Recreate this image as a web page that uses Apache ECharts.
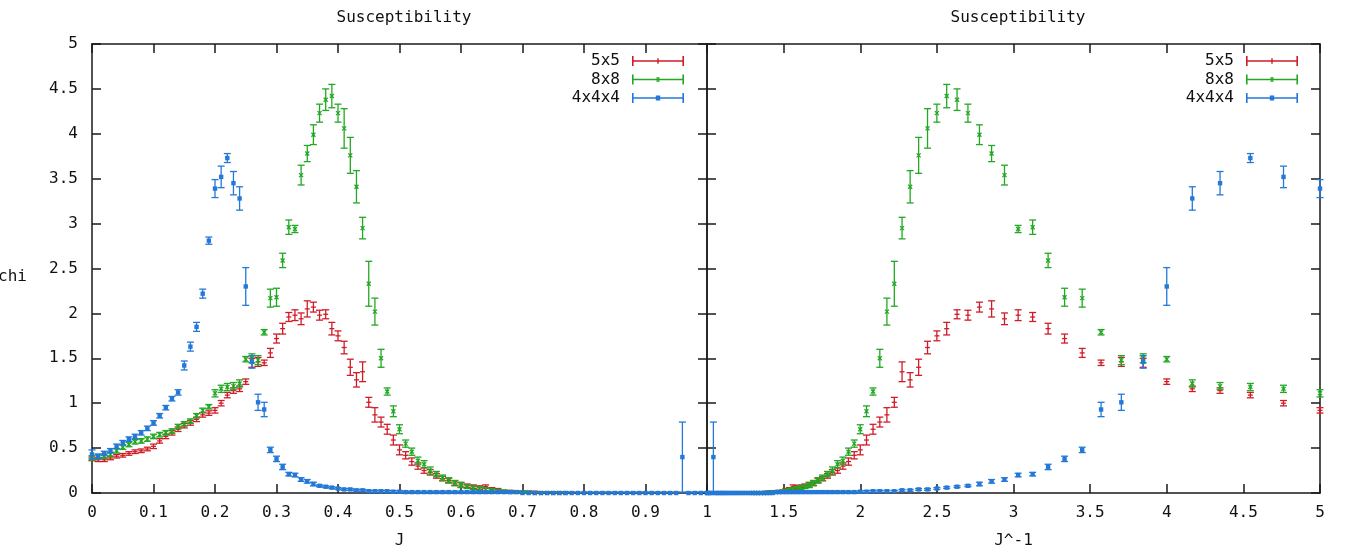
<!DOCTYPE html>
<html><head><meta charset="utf-8">
<script src="https://cdn.jsdelivr.net/npm/echarts@6/dist/echarts.min.js"></script>
<style>html,body{margin:0;padding:0;background:#fff}#c{width:1348px;height:552px}</style>
</head><body><div id="c"></div>
<script>
// coupling J (x of left panel); right panel uses J^-1 of the same points
const J = [0.00,0.01,0.02,0.03,0.04,0.05,0.06,0.07,0.08,0.09,
0.10,0.11,0.12,0.13,0.14,0.15,0.16,0.17,0.18,0.19,
0.20,0.21,0.22,0.23,0.24,0.25,0.26,0.27,0.28,0.29,
0.30,0.31,0.32,0.33,0.34,0.35,0.36,0.37,0.38,0.39,
0.40,0.41,0.42,0.43,0.44,0.45,0.46,0.47,0.48,0.49,
0.50,0.51,0.52,0.53,0.54,0.55,0.56,0.57,0.58,0.59,
0.60,0.61,0.62,0.63,0.64,0.65,0.66,0.67,0.68,0.69,
0.70,0.71,0.72,0.73,0.74,0.75,0.76,0.77,0.78,0.79,
0.80,0.81,0.82,0.83,0.84,0.85,0.86,0.87,0.88,0.89,
0.90,0.91,0.92,0.93,0.94,0.95,0.96,0.97,0.98,0.99,1.00];

// 5x5 (J = 0.00 .. 0.77)
const chi5 = [0.38,0.37,0.37,0.39,0.41,0.42,0.44,0.46,0.47,0.49,
0.52,0.58,0.63,0.67,0.71,0.75,0.78,0.82,0.87,0.89,
0.92,1.00,1.09,1.14,1.16,1.24,1.45,1.46,1.45,1.56,
1.72,1.83,1.96,1.98,1.94,2.05,2.07,1.98,1.99,1.83,
1.75,1.62,1.40,1.26,1.35,1.01,0.87,0.79,0.71,0.59,
0.48,0.42,0.35,0.30,0.25,0.23,0.19,0.16,0.14,0.11,
0.09,0.08,0.07,0.06,0.07,0.04,0.03,0.02,0.02,0.01,
0.01,0.01,0.01,0.00,0.00,0.00,0.00,0.00];
const err5 = [0.02,0.02,0.02,0.02,0.02,0.02,0.02,0.02,0.02,0.02,
0.025,0.025,0.025,0.025,0.025,0.025,0.025,0.025,0.025,0.025,
0.03,0.03,0.03,0.03,0.03,0.03,0.05,0.05,0.03,0.05,
0.05,0.06,0.05,0.06,0.065,0.09,0.055,0.055,0.05,0.07,
0.055,0.07,0.09,0.08,0.11,0.055,0.08,0.055,0.055,0.055,
0.055,0.04,0.04,0.035,0.03,0.03,0.025,0.025,0.025,0.025,
0.025,0.02,0.02,0.02,0.02,0.02,0.02,0.01,0.01,0.01,
0.01,0.01,0.01,0.01,0.01,0.01,0.01,0.01];

// 8x8 (J = 0.00 .. 0.77)
const chi8 = [0.39,0.40,0.41,0.43,0.47,0.51,0.54,0.57,0.58,0.60,
0.63,0.65,0.67,0.69,0.74,0.77,0.80,0.86,0.92,0.96,
1.11,1.16,1.18,1.19,1.22,1.49,1.50,1.48,1.79,2.17,
2.18,2.59,2.96,2.94,3.54,3.78,3.99,4.23,4.38,4.42,
4.23,4.06,3.76,3.41,2.95,2.33,2.02,1.50,1.13,0.91,
0.71,0.55,0.46,0.36,0.32,0.25,0.21,0.17,0.14,0.11,
0.09,0.07,0.06,0.05,0.04,0.03,0.02,0.02,0.01,0.01,
0.01,0.01,0.00,0.00,0.00,0.00,0.00,0.00];
const err8 = [0.025,0.025,0.025,0.025,0.025,0.025,0.025,0.025,0.025,0.025,
0.025,0.025,0.025,0.025,0.025,0.025,0.025,0.025,0.025,0.025,
0.04,0.04,0.04,0.04,0.04,0.03,0.05,0.05,0.03,0.1,
0.1,0.08,0.08,0.04,0.11,0.09,0.11,0.1,0.12,0.13,
0.1,0.22,0.2,0.18,0.12,0.25,0.15,0.1,0.04,0.06,
0.05,0.04,0.04,0.04,0.04,0.04,0.03,0.03,0.03,0.03,
0.03,0.02,0.02,0.02,0.02,0.02,0.02,0.01,0.01,0.01,
0.01,0.01,0.01,0.01,0.01,0.01,0.01,0.01];

// 4x4x4 (J = 0.00 .. 1.00)
const chi444 = [0.43,0.41,0.44,0.47,0.52,0.56,0.60,0.63,0.67,0.72,
0.78,0.86,0.95,1.05,1.12,1.42,1.63,1.85,2.22,2.81,
3.39,3.52,3.73,3.45,3.28,2.30,1.46,1.01,0.93,0.48,
0.38,0.29,0.21,0.20,0.15,0.13,0.10,0.08,0.07,0.06,
0.05,0.04,0.04,0.03,0.03,0.02,0.02,0.02,0.02,0.015,
0.015,0.01,0.01,0.01,0.01,0.01,0.01,0.01,0.01,0.01,
0.01,0.01,0.01,0.01,0.01,0.01,0.01,0.01,0.01,0.01,
0.00,0.00,0.00,0.00,0.00,0.00,0.00,0.00,0.00,0.00,
0.00,0.00,0.00,0.00,0.00,0.00,0.00,0.00,0.00,0.00,
0.00,0.00,0.00,0.00,0.00,0.00,0.40,0.00,0.00,0.00,0.00];
const err444 = [0.05,0.025,0.025,0.025,0.025,0.025,0.025,0.025,0.025,0.025,
0.025,0.025,0.025,0.025,0.03,0.05,0.05,0.05,0.05,0.04,
0.1,0.12,0.05,0.13,0.13,0.21,0.07,0.09,0.08,0.03,
0.03,0.03,0.02,0.02,0.02,0.02,0.02,0.01,0.01,0.01,
0.01,0.01,0.01,0.01,0.01,0.01,0.01,0.01,0.01,0.01,
0.01,0.01,0.01,0.01,0.01,0.01,0.01,0.01,0.01,0.01,
0.01,0.01,0.01,0.01,0.01,0.01,0.01,0.01,0.01,0.01,
0.01,0.01,0.01,0.01,0.01,0.01,0.01,0.01,0.01,0.01,
0.01,0.01,0.01,0.01,0.01,0.01,0.01,0.01,0.01,0.01,
0.01,0.01,0.01,0.01,0.01,0.01,0.39,0.01,0.01,0.01,0.01];

const seriesNames = ['5x5', '8x8', '4x4x4'];
const titleText = 'Susceptibility';
const xNameLeft = 'J', xNameRight = 'J^-1', yName = 'chi';

const COLORS = ['#d01c28', '#22a822', '#2478d8'];
const MONO = '"DejaVu Sans Mono", "Liberation Mono", monospace';
const AXC = '#1a1a1a';

function leftData(chi, err) { return chi.map((v, i) => [J[i], v, err[i]]); }
function rightData(chi, err) {
  const out = [];
  chi.forEach((v, i) => { const j = J[i]; if (j > 0 && 1 / j <= 5.0001) out.push([1 / j, v, err[i]]); });
  return out;
}

function makeRender(kind) {
  return function (params, api) {
    const x = api.value(0), y = api.value(1), e = api.value(2);
    const c = api.visual('color');
    const p = api.coord([x, y]);
    const hi = api.coord([x, y + e]);
    const lo = api.coord([x, Math.max(0, y - e)]);
    const w = 3.5, lw = 1.3;
    const st = { stroke: c, lineWidth: lw };
    const ch = [
      { type: 'line', shape: { x1: p[0], y1: hi[1], x2: p[0], y2: lo[1] }, style: st },
      { type: 'line', shape: { x1: p[0] - w, y1: hi[1], x2: p[0] + w, y2: hi[1] }, style: st }
    ];
    if (y - e >= 0) ch.push({ type: 'line', shape: { x1: p[0] - w, y1: lo[1], x2: p[0] + w, y2: lo[1] }, style: st });
    if (kind === 'plus') {
      ch.push({ type: 'line', shape: { x1: p[0] - 2.5, y1: p[1], x2: p[0] + 2.5, y2: p[1] }, style: st });
    } else if (kind === 'cross') {
      ch.push({ type: 'line', shape: { x1: p[0] - 2, y1: p[1] - 2, x2: p[0] + 2, y2: p[1] + 2 }, style: st });
      ch.push({ type: 'line', shape: { x1: p[0] - 2, y1: p[1] + 2, x2: p[0] + 2, y2: p[1] - 2 }, style: st });
    } else {
      ch.push({ type: 'rect', shape: { x: p[0] - 2.2, y: p[1] - 2.2, width: 4.4, height: 4.4 }, style: { fill: c } });
    }
    return { type: 'group', children: ch };
  };
}

const kinds = ['plus', 'cross', 'square'];
const allChi = [chi5, chi8, chi444];
const allErr = [err5, err8, err444];

const series = [];
[0, 1].forEach(panel => {
  seriesNames.forEach((name, k) => {
    series.push({
      type: 'custom', name: name,
      xAxisIndex: panel * 2, yAxisIndex: panel * 2,
      renderItem: makeRender(kinds[k]),
      itemStyle: { color: COLORS[k] },
      color: COLORS[k],
      clip: false, silent: true,
      encode: { x: 0, y: 1 },
      data: panel === 0 ? leftData(allChi[k], allErr[k]) : rightData(allChi[k], allErr[k])
    });
  });
});

const baseIcon = 'M0,0h1.6v10h-1.6z M50.4,0h1.6v10h-1.6z M0,4.3h52v1.4h-52z ';
const icons = [
  'path://' + baseIcon + 'M25.3,2.2h1.4v5.6h-1.4z',
  'path://' + baseIcon + 'M24.6,2.4h1.2v5.2h-1.2z M26.2,2.4h1.2v5.2h-1.2z',
  'path://' + baseIcon + 'M23.8,2.6h4.4v4.8h-4.4z'
];

function legendAt(right) {
  return {
    orient: 'vertical', align: 'right', right: right, top: 53, padding: 0,
    itemWidth: 52, itemHeight: 10, itemGap: 2.5, selectedMode: false,
    textStyle: { fontFamily: MONO, fontSize: 16, color: '#111', lineHeight: 14, padding: [0, 7, 0, 0] },
    data: seriesNames.map((n, k) => ({ name: n, icon: icons[k] }))
  };
}

function xAx(grid, pos, min, max, interval, labels, name, fmt) {
  return {
    type: 'value', gridIndex: grid, position: pos, min: min, max: max, interval: interval,
    name: name || '', nameLocation: 'middle', nameGap: 40,
    nameTextStyle: { fontFamily: MONO, fontSize: 16, color: '#111' },
    axisLine: { show: true, onZero: false, lineStyle: { color: AXC, width: 1.5 } },
    axisTick: { show: true, inside: true, length: 9, lineStyle: { color: AXC, width: 1.5 } },
    axisLabel: { show: labels, fontFamily: MONO, fontSize: 16, color: '#111', margin: 12, formatter: fmt },
    splitLine: { show: false }
  };
}
function yAx(grid, pos, labels, name) {
  return {
    type: 'value', gridIndex: grid, position: pos, min: 0, max: 5, interval: 0.5,
    name: name || '', nameLocation: 'middle', nameRotate: 0, nameGap: 65,
    nameTextStyle: { fontFamily: MONO, fontSize: 16, color: '#111', verticalAlign: 'top' },
    axisLine: { show: true, onZero: false, lineStyle: { color: AXC, width: 1.5 } },
    axisTick: { show: true, inside: true, length: 9, lineStyle: { color: AXC, width: 1.5 } },
    axisLabel: { show: labels, fontFamily: MONO, fontSize: 16, color: '#111', margin: 14 },
    splitLine: { show: false }
  };
}

const chart = echarts.init(document.getElementById('c'), null, { renderer: 'canvas' });
chart.setOption({
  backgroundColor: '#ffffff',
  animation: false,
  title: [
    { text: titleText, left: 399, top: 5, textAlign: 'center', textStyle: { fontFamily: MONO, fontSize: 16, fontWeight: 'normal', color: '#111' } },
    { text: titleText, left: 1013, top: 5, textAlign: 'center', textStyle: { fontFamily: MONO, fontSize: 16, fontWeight: 'normal', color: '#111' } }
  ],
  legend: [legendAt(664), legendAt(50)],
  grid: [
    { left: 92, top: 44, width: 615, height: 449, containLabel: false, outerBoundsMode: 'none' },
    { left: 707, top: 44, width: 613, height: 449, containLabel: false, outerBoundsMode: 'none' }
  ],
  xAxis: [
    xAx(0, 'bottom', 0, 1, 0.1, true, xNameLeft, v => (v >= 0.999 ? '' : String(+v.toFixed(1)))),
    xAx(0, 'top', 0, 1, 0.1, false),
    xAx(1, 'bottom', 1, 5, 0.5, true, xNameRight, v => String(+v.toFixed(1))),
    xAx(1, 'top', 1, 5, 0.5, false)
  ],
  yAxis: [
    yAx(0, 'left', true, yName),
    yAx(0, 'right', false),
    yAx(1, 'left', false),
    yAx(1, 'right', false)
  ],
  series: series
});
</script>
</body></html>
